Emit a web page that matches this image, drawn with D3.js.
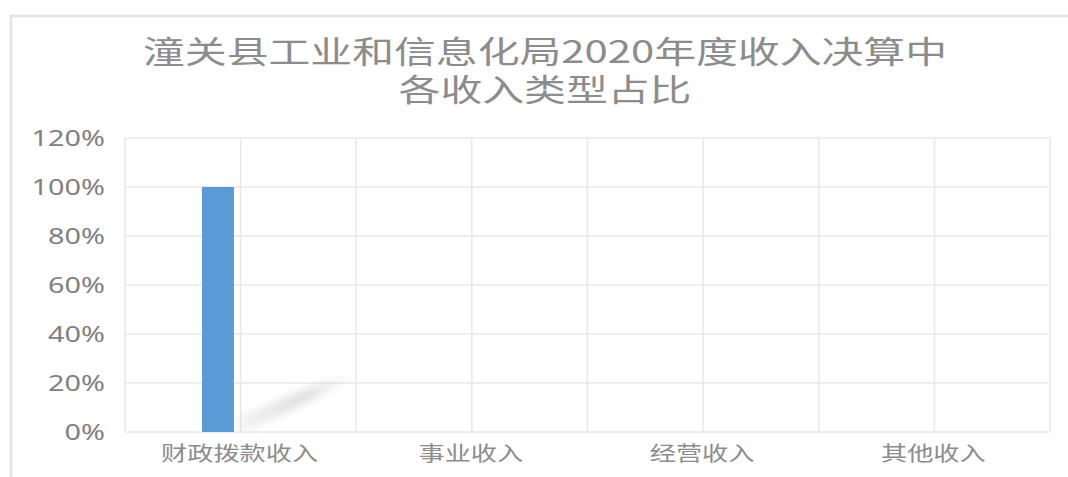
<!DOCTYPE html>
<html>
<head>
<meta charset="utf-8">
<script src="https://cdn.jsdelivr.net/npm/d3@7"></script>
<style>
  body { margin: 0; background: #fff; }
  svg { display: block; }
</style>
</head>
<body>
<div id="chart"></div>
<script>
// data
var titleLines = ["潼关县工业和信息化局2020年度收入决算中", "各收入类型占比"];
var categories = ["财政拨款收入", "事业收入", "经营收入", "其他收入"];
var shares = [1.0, 0, 0, 0];
var yTicks = [0, 0.2, 0.4, 0.6, 0.8, 1.0, 1.2];

var WIDTH = 1068,
  HEIGHT = 477;

var TEXT_COLOR = "#8c8c8c",
  TICK_COLOR = "#808080",
  GRID_COLOR = "#e9e9e9",
  BORDER_COLOR = "#e3e3e3",
  BAR_COLOR = "#5b9bd5";

// the whole picture is a bit stretched sideways
var STRETCH = 1.31;

var margin = { left: 125, right: 18, top: 138, bottom: 45 };

var svg = d3.select("#chart")
  .append("svg")
  .attr("width", WIDTH)
  .attr("height", HEIGHT);

var defs = svg.append("defs");
defs.append("filter")
  .attr("id", "blur")
  .attr("x", "-20%").attr("y", "-50%")
  .attr("width", "140%").attr("height", "200%")
  .append("feGaussianBlur")
  .attr("stdDeviation", 4);

var grad = defs.append("linearGradient")
  .attr("id", "shadowFade")
  .attr("x1", "0%").attr("x2", "100%")
  .attr("y1", "0%").attr("y2", "0%");
grad.append("stop").attr("offset", "0%").attr("stop-color", "#aaa").attr("stop-opacity", 0.12);
grad.append("stop").attr("offset", "60%").attr("stop-color", "#aaa").attr("stop-opacity", 0.42);
grad.append("stop").attr("offset", "100%").attr("stop-color", "#aaa").attr("stop-opacity", 0);

// chart frame (only top and left edges are in the picture)
svg.append("path")
  .attr("d", "M11," + HEIGHT + "V16H" + WIDTH)
  .attr("fill", "none")
  .attr("stroke", BORDER_COLOR)
  .attr("stroke-width", 2.5);

var x = d3.scaleBand()
  .domain(categories)
  .range([margin.left, WIDTH - margin.right])
  .padding(0);

var y = d3.scaleLinear()
  .domain([0, 1.2])
  .range([HEIGHT - margin.bottom, margin.top]);

function stretchText(sel, px, py) {
  sel.attr("transform", function(d, i) {
    return "translate(" + px(d, i) + "," + py(d, i) + ") scale(" + STRETCH + ",1)";
  });
}

// title
var title = svg.append("g").selectAll("text")
  .data(titleLines)
  .enter()
  .append("text")
  .attr("text-anchor", "middle")
  .style("font-family", "'Noto Sans CJK SC', sans-serif")
  .style("font-size", "31px")
  .style("fill", TEXT_COLOR)
  .text(function(d) { return d; });
title.attr("transform", function(d, i) {
  return "translate(545," + (63 + i * 38) + ") scale(1.35,1)";
});

// horizontal grid
svg.append("g").selectAll("line")
  .data(yTicks)
  .enter()
  .append("line")
  .attr("x1", x.range()[0])
  .attr("x2", x.range()[1])
  .attr("y1", function(d) { return y(d); })
  .attr("y2", function(d) { return y(d); })
  .attr("stroke", GRID_COLOR)
  .attr("stroke-width", 1.6);

// vertical grid: band edges and band centres
var vLines = [];
categories.forEach(function(c) {
  vLines.push(x(c));
  vLines.push(x(c) + x.bandwidth() / 2);
});
vLines.push(x.range()[1]);

svg.append("g").selectAll("line")
  .data(vLines)
  .enter()
  .append("line")
  .attr("x1", function(d) { return d; })
  .attr("x2", function(d) { return d; })
  .attr("y1", y(1.2))
  .attr("y2", y(0))
  .attr("stroke", GRID_COLOR)
  .attr("stroke-width", 1.6);

// y tick labels
var fmt = d3.format(".0%");
var yLabels = svg.append("g").selectAll("text")
  .data(yTicks)
  .enter()
  .append("text")
  .attr("text-anchor", "end")
  .attr("dy", "0.36em")
  .style("font-family", "'Noto Sans', sans-serif")
  .style("font-size", "22px")
  .style("fill", TICK_COLOR)
  .text(function(d) { return fmt(d); });
stretchText(yLabels, function() { return margin.left - 20; }, function(d) { return y(d); });

// category labels
var xLabels = svg.append("g").selectAll("text")
  .data(categories)
  .enter()
  .append("text")
  .attr("text-anchor", "middle")
  .style("font-family", "'Noto Sans CJK SC', sans-serif")
  .style("font-size", "20px")
  .style("fill", TEXT_COLOR)
  .text(function(d) { return d; });
stretchText(xLabels, function(d) { return x(d) + x.bandwidth() / 2 - 1; }, function() { return y(0) + 29; });

// bars sit left of the band centre, like the first series of a cluster
var barOffset = x.bandwidth() * 0.333,
  barWidth = x.bandwidth() * 0.138;

var barData = categories.map(function(c, i) { return { cat: c, v: shares[i] }; });

// soft cast shadow right of the bar
svg.append("g").selectAll("path")
  .data(barData.filter(function(d) { return d.v > 0; }))
  .enter()
  .append("path")
  .attr("d", function(d) {
    var x0 = x(d.cat) + barOffset + barWidth + 2,
      y0 = y(0);
    var len = x.bandwidth() * 0.47;
    return "M" + x0 + "," + (y0 - 2) +
      "L" + x0 + "," + (y0 - 14) +
      "L" + (x0 + len) + "," + (y0 - 58) +
      "L" + (x0 + len + 6) + "," + (y0 - 52) +
      "L" + (x0 + 14) + "," + (y0 - 2) + "Z";
  })
  .attr("fill", "url(#shadowFade)")
  .attr("filter", "url(#blur)");

svg.append("g").selectAll("rect")
  .data(barData)
  .enter()
  .append("rect")
  .attr("x", function(d) { return x(d.cat) + barOffset; })
  .attr("width", barWidth)
  .attr("y", function(d) { return y(d.v); })
  .attr("height", function(d) { return y(0) - y(d.v); })
  .attr("fill", BAR_COLOR);
</script>
</body>
</html>
